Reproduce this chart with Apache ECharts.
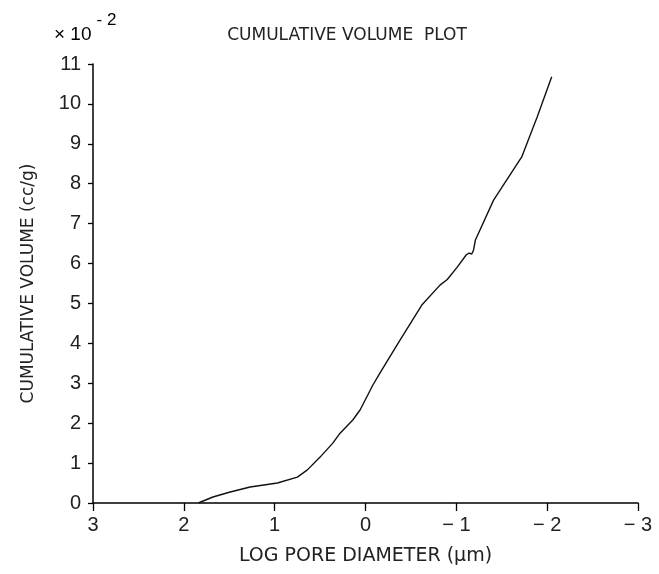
<!DOCTYPE html>
<html>
<head>
<meta charset="utf-8">
<script src="https://cdn.jsdelivr.net/npm/echarts@6/dist/echarts.min.js"></script>
<style>
  html, body { margin: 0; padding: 0; background: #fff; }
  #main { width: 659px; height: 574px; }
</style>
</head>
<body>
<div id="main"></div>
<script>
// log pore diameter (um) and cumulative volume (x10^-2 cc/g)
var logDiameter = [1.84, 1.68, 1.50, 1.27, 0.97, 0.75, 0.64, 0.50, 0.36, 0.28, 0.14, 0.06,
    -0.08, -0.16, -0.38, -0.62, -0.82, -0.90, -1.01, -1.11, -1.14, -1.17, -1.19, -1.21,
    -1.41, -1.72, -1.89, -2.05];
var cumVolume = [0, 0.15, 0.27, 0.40, 0.50, 0.65, 0.83, 1.15, 1.50, 1.75, 2.08, 2.33,
    2.95, 3.26, 4.08, 4.96, 5.46, 5.60, 5.91, 6.22, 6.26, 6.24, 6.34, 6.59,
    7.59, 8.67, 9.67, 10.68];
var xTicks = [3, 2, 1, 0, -1, -2, -3];
var yTicks = [0, 1, 2, 3, 4, 5, 6, 7, 8, 9, 10, 11];

var plotFont = 'DejaVu Sans';
var tickFont = 'Liberation Sans';

var points = [];
for (var i = 0; i < logDiameter.length; i++) {
    points.push([logDiameter[i], cumVolume[i]]);
}

var myChart = echarts.init(document.getElementById('main'));
var option = {
    backgroundColor: '#fff',
    animation: false,
    title: {
        text: 'CUMULATIVE VOLUME  PLOT',
        left: 342,
        top: 22,
        textAlign: 'center',
        textStyle: { fontFamily: plotFont, fontSize: 17, fontWeight: 'normal', color: '#222' }
    },
    graphic: [{
        type: 'text',
        left: 54,
        top: 12,
        style: {
            text: '{a|× 10}{b|- 2}',
            rich: {
                a: { fontFamily: tickFont, fontSize: 19, color: '#222', padding: [16, 0, 0, 0] },
                b: { fontFamily: tickFont, fontSize: 17, color: '#222', padding: [0, 0, 12, 5] }
            }
        }
    }],
    grid: { left: 93, right: 21, top: 64, bottom: 71 },
    xAxis: {
        type: 'value',
        min: -3,
        max: 3,
        interval: 1,
        inverse: true,
        name: 'LOG PORE DIAMETER (µm)',
        nameLocation: 'middle',
        nameGap: 44,
        nameTextStyle: { fontFamily: plotFont, fontSize: 19, color: '#222' },
        axisLine: { onZero: false, lineStyle: { color: '#000', width: 1.5 } },
        axisTick: { length: 8, lineStyle: { color: '#000', width: 1.3 } },
        axisLabel: {
            margin: 12,
            fontFamily: tickFont,
            fontSize: 20,
            color: '#222',
            formatter: function (v) { return v < 0 ? '− ' + (-v) : String(v); }
        },
        splitLine: { show: false }
    },
    yAxis: {
        type: 'value',
        position: 'left',
        min: 0,
        max: 11,
        interval: 1,
        name: 'CUMULATIVE VOLUME (cc/g)',
        nameLocation: 'middle',
        nameGap: 56,
        nameTextStyle: { fontFamily: plotFont, fontSize: 17, color: '#222' },
        axisLine: { show: true, onZero: false, lineStyle: { color: '#000', width: 1.5 } },
        axisTick: { show: true, length: 5, lineStyle: { color: '#000', width: 1.3 } },
        axisLabel: { margin: 12, fontFamily: tickFont, fontSize: 20, color: '#222' },
        splitLine: { show: false }
    },
    series: [{
        type: 'line',
        data: points,
        showSymbol: false,
        smooth: false,
        lineStyle: { color: '#111', width: 1.4 }
    }]
};
myChart.setOption(option);
</script>
</body>
</html>
